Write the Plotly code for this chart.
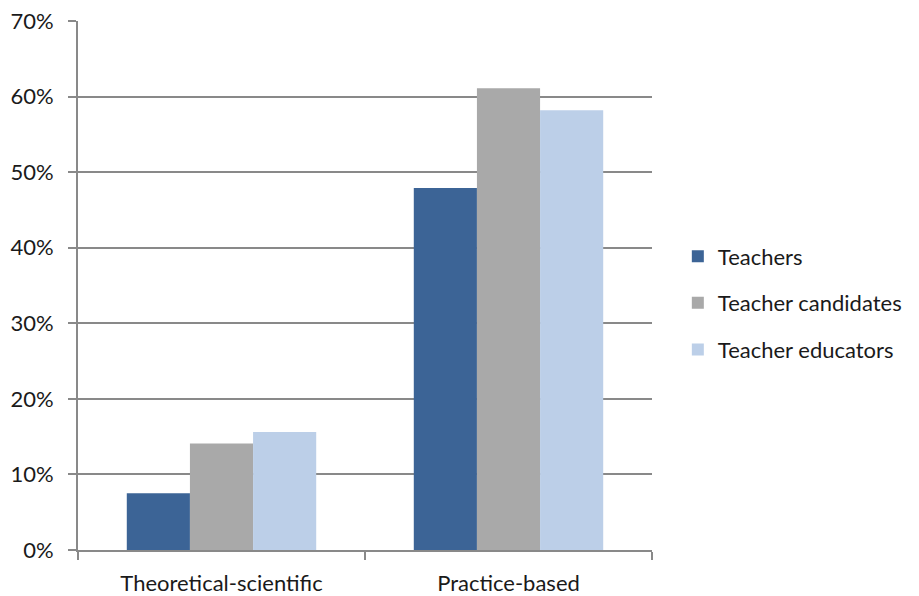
import plotly.graph_objects as go

categories = ["Theoretical-scientific", "Practice-based"]
series_names = ["Teachers", "Teacher candidates", "Teacher educators"]
teachers = [7.5, 47.9]
teacher_candidates = [14.1, 61.1]
teacher_educators = [15.6, 58.2]
y_ticks = [0, 10, 20, 30, 40, 50, 60, 70]
y_tick_labels = ["0%", "10%", "20%", "30%", "40%", "50%", "60%", "70%"]

colors = ["#3c6496", "#a9a9a9", "#bccfe8"]
values = [teachers, teacher_candidates, teacher_educators]

fig = go.Figure()
for i, (name, vals) in enumerate(zip(series_names, values)):
    fig.add_trace(go.Bar(
        x=categories, y=vals, name=name,
        marker=dict(color=colors[i], line=dict(width=0)),
        legendgroup=f"g{i}",
    ))

axis_grey = "#898989"
fig.update_layout(
    width=919, height=596,
    margin=dict(l=78, r=267, t=21, b=46),
    paper_bgcolor="white", plot_bgcolor="white",
    barmode="group", bargap=0.34, bargroupgap=0,
    font=dict(family="Lato", size=22, color="#1a1a1a"),
    showlegend=True,
    legend=dict(x=1.045, y=0.467, xanchor="left", yanchor="middle",
                traceorder="grouped", tracegroupgap=15,
                font=dict(size=22)),
    xaxis=dict(showline=True, linecolor=axis_grey, linewidth=2,
               ticks="outside", tickson="boundaries", ticklen=8,
               tickcolor=axis_grey, tickwidth=2, showgrid=False,
               zeroline=False, ticklabelstandoff=13, automargin=False),
    yaxis=dict(range=[0, 70], tickvals=y_ticks, ticktext=y_tick_labels,
               showline=True, linecolor=axis_grey, linewidth=2,
               ticks="outside", ticklen=8, tickcolor=axis_grey, tickwidth=2,
               showgrid=True, gridcolor=axis_grey, gridwidth=2,
               zeroline=False, ticklabelstandoff=10, automargin=False),
)

fig.write_html("out.html")
